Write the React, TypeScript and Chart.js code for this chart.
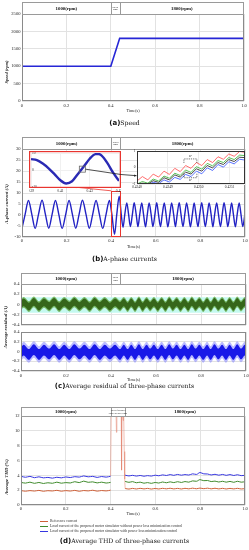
import React, { useEffect, useRef } from "react";
import { Chart, registerables } from "chart.js";

Chart.register(...registerables);

const SERIF = "'Liberation Serif', 'Times New Roman', serif";

// ---------------- shared ----------------
const timeTicks = [0, 0.2, 0.4, 0.6, 0.8, 1.0];
const timeTickLabels = ["0", "0.2", "0.4", "0.6", "0.8", "1.0"];
const phaseBounds = [0, 0.4, 0.44, 1.0];
const phaseLabels = ["1000(rpm)", "Speed\nramp", "1800(rpm)"];

// ---------------- (a) speed ----------------
const speedTime = [0, 0.4, 0.44, 1.0];
const speedRpm = [1000, 1000, 1800, 1800];
const speedTicks = [0, 500, 1000, 1500, 2000, 2500];
const speedTickLabels = ["0", "500", "1000", "1500", "2000", "2500"];

// ---------------- (b) A-phase current ----------------
const currentTime = [
  0.000, 0.014, 0.029, 0.044, 0.059, 0.074, 0.090, 0.105, 0.120, 0.135,
  0.150, 0.165, 0.180, 0.196, 0.211, 0.226, 0.241, 0.256, 0.271, 0.287,
  0.302, 0.317, 0.332, 0.347, 0.362, 0.377, 0.392, 0.403, 0.415, 0.425,
  0.436, 0.445, 0.453, 0.461, 0.470, 0.478, 0.486, 0.495, 0.503, 0.512,
  0.520, 0.528, 0.537, 0.545, 0.554, 0.562, 0.570, 0.579, 0.587, 0.596,
  0.604, 0.612, 0.621, 0.629, 0.638, 0.646, 0.654, 0.663, 0.671, 0.680,
  0.688, 0.696, 0.705, 0.713, 0.722, 0.730, 0.738, 0.747, 0.755, 0.764,
  0.772, 0.780, 0.789, 0.797, 0.806, 0.814, 0.822, 0.831, 0.839, 0.848,
  0.856, 0.864, 0.873, 0.881, 0.890, 0.898, 0.906, 0.915, 0.923, 0.932,
  0.940, 0.948, 0.957, 0.965, 0.974, 0.982, 0.990, 1.000,
];
const currentA = [
  -6.0, 0.3, 6.6, 0.3, -6.1, 0.3, 6.7, 0.3, -6.0, 0.3,
  6.6, 0.3, -6.1, 0.3, 6.6, 0.3, -6.0, 0.3, 6.7, 0.3,
  -6.0, 0.3, 6.6, 0.3, -6.1, 0.3, 6.6, 0.3, -8.8, 0.3,
  8.6, 0.3, -5.6, 0.3, 5.5, 0.3, -5.3, 0.3, 5.6, 0.3,
  -5.3, 0.3, 5.5, 0.3, -5.4, 0.3, 5.5, 0.3, -5.3, 0.3,
  5.6, 0.3, -5.3, 0.3, 5.5, 0.3, -5.4, 0.3, 5.5, 0.3,
  -5.3, 0.3, 5.6, 0.3, -5.3, 0.3, 5.5, 0.3, -5.4, 0.3,
  5.5, 0.3, -5.3, 0.3, 5.6, 0.3, -5.3, 0.3, 5.5, 0.3,
  -5.4, 0.3, 5.5, 0.3, -5.3, 0.3, 5.6, 0.3, -5.3, 0.3,
  5.5, 0.3, -5.4, 0.3, 5.5, 0.3, -5.3, 0.8,
];
const currentTicks = [-10, -5, 0, 5, 10, 15, 20, 25, 30];
const currentTickLabels = ["-10", "-5", "0", "5", "10", "15", "20", "25", "30"];
const zoomBox = [0.4, 0.44, 11, -10];

const zoomTime = [0.390, 0.394, 0.398, 0.402, 0.406, 0.410, 0.414, 0.418, 0.422, 0.426, 0.430, 0.434, 0.436, 0.438, 0.442, 0.446, 0.450];
const zoomA = [6.4, 5.8, 3.8, 1.0, -2.4, -6.0, -7.9, -6.6, -2.3, 2.0, 6.6, 9.3, 9.4, 8.6, 4.2, -1.6, -6.4];
const zoomXTicks = [0.39, 0.41, 0.43, 0.45];
const zoomXLabels = ["0.39", "0.41", "0.43", "0.45"];
const zoomYTicks = [-10, 0, 10];
const zoomYLabels = ["-10", "0", "10"];
const zoomMarker = [0.425, 0.5];

const detailTime = [
  0.4248, 0.4248175, 0.424835, 0.4248525, 0.42487, 0.4248875, 0.424905, 0.4249225, 0.42494, 0.4249575,
  0.424975, 0.4249925, 0.42501, 0.4250275, 0.425045, 0.4250625, 0.42508, 0.4250975, 0.425115, 0.4251325, 0.42515,
];
const detailReference = [-0.82, -0.55, -0.75, -0.4, -0.58, -0.22, -0.42, -0.05, -0.25, 0.12, -0.05, 0.3, 0.12, 0.48, 0.3, 0.65, 0.5, 0.82, 0.68, 0.97, 0.92];
const detailWithout = [-1.0, -0.85, -0.95, -0.7, -0.82, -0.52, -0.65, -0.35, -0.48, -0.15, -0.3, 0.05, -0.1, 0.25, 0.1, 0.42, 0.3, 0.6, 0.48, 0.75, 0.72];
const detailModel = [-1.05, -0.95, -1.0, -0.8, -0.9, -0.62, -0.75, -0.45, -0.58, -0.28, -0.4, -0.08, -0.22, 0.12, -0.02, 0.3, 0.18, 0.48, 0.36, 0.62, 0.6];
const detailWith = [-1.1, -1.0, -1.05, -0.9, -0.98, -0.75, -0.88, -0.6, -0.72, -0.42, -0.55, -0.22, -0.38, -0.02, -0.18, 0.18, 0.02, 0.35, 0.22, 0.5, 0.45];
const detailXTicks = [0.4248, 0.4249, 0.425, 0.4251];
const detailXLabels = ["0.4248", "0.4249", "0.4250", "0.4251"];
const detailYTicks = [-1, 0, 1];
const detailYLabels = ["-1", "0", "1"];

// ---------------- (c) residual ----------------
const resTime = [
  0, 0.012, 0.035, 0.057, 0.080, 0.102, 0.125, 0.147, 0.170, 0.192,
  0.215, 0.237, 0.260, 0.282, 0.305, 0.327, 0.350, 0.372, 0.395, 0.418,
  0.440, 0.457, 0.474, 0.490, 0.507, 0.524, 0.541, 0.558, 0.574, 0.591,
  0.608, 0.625, 0.642, 0.659, 0.675, 0.692, 0.709, 0.726, 0.743, 0.759,
  0.776, 0.793, 0.810, 0.827, 0.843, 0.860, 0.877, 0.894, 0.911, 0.927,
  0.944, 0.961, 0.978, 0.995, 1.000,
];
const greenResidual = [
  0.0, 0.04, -0.04, 0.05, -0.04, 0.04, -0.03, 0.05, -0.04, 0.04,
  -0.03, 0.05, -0.03, 0.04, -0.04, 0.05, -0.03, 0.04, -0.04, 0.04,
  -0.03, 0.04, -0.04, 0.04, -0.04, 0.05, -0.04, 0.04, -0.03, 0.04,
  -0.04, 0.04, -0.04, 0.05, -0.03, 0.04, -0.04, 0.04, -0.04, 0.05,
  -0.03, 0.04, -0.04, 0.04, -0.04, 0.05, -0.03, 0.04, -0.04, 0.04,
  -0.04, 0.05, -0.03, 0.04, 0.0,
];
const blueResidual = [
  -0.02, 0.03, -0.06, 0.04, -0.06, 0.03, -0.05, 0.04, -0.06, 0.03,
  -0.06, 0.04, -0.05, 0.03, -0.06, 0.04, -0.06, 0.03, -0.05, 0.03,
  -0.06, 0.03, -0.06, 0.03, -0.06, 0.04, -0.06, 0.03, -0.05, 0.03,
  -0.06, 0.03, -0.06, 0.04, -0.05, 0.03, -0.06, 0.03, -0.06, 0.04,
  -0.05, 0.03, -0.06, 0.03, -0.06, 0.04, -0.05, 0.03, -0.06, 0.03,
  -0.06, 0.04, -0.05, 0.03, -0.02,
];
const residualBand = [0.14, -0.16];
const resTicks = [-0.4, -0.2, 0, 0.2, 0.4];
const resTickLabels = ["-0.4", "-0.2", "0", "0.2", "0.4"];

// ---------------- (d) THD ----------------
const thdBounds = [0, 0.4, 0.465, 1.0];
const thdPhaseLabels = ["1000(rpm)", "THD is fluctuated\ncaused by speed ramp", "1800(rpm)"];
const thdTimeBefore = [0, 0.02, 0.04, 0.06, 0.08, 0.1, 0.12, 0.14, 0.16, 0.18, 0.2, 0.22, 0.24, 0.26, 0.28, 0.3, 0.32, 0.34, 0.36, 0.38, 0.4];
const thdRefBefore = [1.95, 1.86, 1.94, 1.88, 1.97, 1.85, 1.93, 1.89, 1.98, 1.86, 1.94, 1.88, 1.97, 1.85, 1.95, 1.9, 1.99, 1.87, 1.95, 1.9, 2.0];
const thdWithoutBefore = [3.05, 2.95, 3.08, 2.92, 3.04, 2.9, 3.0, 2.93, 3.08, 2.94, 3.02, 2.97, 3.14, 3.02, 3.22, 3.06, 3.12, 2.98, 3.08, 2.96, 3.05];
const thdWithBefore = [3.88, 3.74, 3.86, 3.68, 3.8, 3.66, 3.72, 3.62, 3.74, 3.66, 3.78, 3.7, 3.82, 3.76, 3.92, 3.8, 3.86, 3.72, 3.84, 3.76, 3.88];
const thdTimeAfter = [
  0.465, 0.482, 0.498, 0.515, 0.532, 0.549, 0.565, 0.582, 0.599, 0.615, 0.632, 0.649, 0.666, 0.682, 0.699, 0.716, 0.732,
  0.749, 0.766, 0.783, 0.799, 0.816, 0.833, 0.849, 0.866, 0.883, 0.9, 0.916, 0.933, 0.95, 0.966, 0.983, 1.0,
];
const thdRefAfter = [2.22, 2.15, 2.24, 2.16, 2.25, 2.17, 2.24, 2.15, 2.23, 2.16, 2.25, 2.18, 2.26, 2.17, 2.24, 2.16, 2.25, 2.18, 2.27, 2.19, 2.28, 2.2, 2.27, 2.18, 2.26, 2.17, 2.25, 2.16, 2.24, 2.17, 2.25, 2.16, 2.22];
const thdWithoutAfter = [3.18, 3.06, 3.15, 3.0, 3.08, 2.94, 3.02, 2.92, 3.04, 2.96, 3.1, 3.0, 3.12, 3.02, 3.14, 3.04, 3.16, 3.08, 3.25, 3.2, 3.42, 3.28, 3.3, 3.16, 3.22, 3.1, 3.2, 3.08, 3.18, 3.06, 3.2, 3.08, 3.14];
const thdWithAfter = [4.02, 3.92, 4.0, 3.9, 3.98, 3.88, 3.96, 3.9, 4.02, 3.94, 4.06, 3.98, 4.1, 4.0, 4.12, 4.02, 4.1, 4.04, 4.2, 4.12, 4.38, 4.2, 4.18, 4.05, 4.14, 4.02, 4.12, 4.0, 4.1, 3.98, 4.08, 3.96, 4.0];
const thdTransTime = [0.4, 0.403, 0.405, 0.424, 0.426, 0.428, 0.447, 0.449, 0.451, 0.454, 0.456, 0.458, 0.461, 0.463, 0.465];
const thdTransVal = [3.9, 13, 13, 13, 9.8, 13, 13, 4.7, 13, 13, 11.4, 13, 7.2, 3.5, 2.2];
const thdTicks = [0, 2, 4, 6, 8, 10, 12];
const thdTickLabels = ["0", "2", "4", "6", "8", "10", "12"];
const thdLegend = [
  "Reference current",
  "Load current of the proposed motor simulator without power loss minimization control",
  "Load current of the proposed motor simulator with power loss minimization control",
];
const thdColors = ["#cf6038", "#3f8a2c", "#3636e0"];

// ---------------- helpers ----------------
function axis(c: any) {
  return {
    type: "linear",
    position: c.x ? "bottom" : "left",
    min: c.min,
    max: c.max,
    afterBuildTicks: (s: any) => {
      s.ticks = c.ticks.map((v: number) => ({ value: v }));
    },
    afterFit: (s: any) => {
      if (c.x) s.height = c.size;
      else s.width = c.size;
      s.paddingLeft = 0;
      s.paddingRight = 0;
      s.paddingTop = 0;
      s.paddingBottom = 0;
    },
    ticks: {
      display: c.show !== false,
      autoSkip: false,
      maxRotation: 0,
      minRotation: 0,
      mirror: !!c.mirror,
      padding: c.pad ?? 1.5,
      color: "#2a2a2a",
      font: { family: SERIF, size: c.font ?? 4.6 },
      callback: (_v: any, i: number) => (c.labels ? c.labels[i] : ""),
    },
    grid: { display: true, color: c.grid ?? "#e2e2e2", lineWidth: 1, drawTicks: false },
    border: { display: false },
    title: c.title
      ? { display: true, text: c.title, color: "#222", font: { family: SERIF, size: 4.2 }, padding: { top: 0, bottom: c.titlePadB ?? 1 } }
      : { display: false },
  };
}

function baseOpts(pad: any, x: any, y: any) {
  return {
    responsive: false,
    animation: false,
    devicePixelRatio: 1,
    events: [],
    layout: { padding: { top: pad.top ?? 0, right: pad.right ?? 0, left: pad.left ?? 0, bottom: pad.bottom ?? 0 } },
    plugins: { legend: { display: false }, tooltip: { enabled: false } },
    elements: { point: { radius: 0 } },
    scales: { x, y },
  };
}

function line(xs: number[], ys: number[], color: string, width: number, extra: any = {}) {
  return {
    data: xs.map((x, i) => ({ x, y: ys[i] })),
    borderColor: color,
    backgroundColor: color,
    borderWidth: width,
    pointRadius: 0,
    fill: false,
    ...extra,
  };
}

// a filled band of a given half-thickness (a drawing style) around a trace
function band(xs: number[], ys: number[], half: number, color: string) {
  const mono = { cubicInterpolationMode: "monotone" };
  return [
    { data: xs.map((x, i) => ({ x, y: ys[i] + half })), borderWidth: 0, pointRadius: 0, backgroundColor: color, fill: "+1", ...mono },
    { data: xs.map((x, i) => ({ x, y: ys[i] - half })), borderWidth: 0, pointRadius: 0, fill: false, ...mono },
  ];
}

const framePlugin = {
  id: "frame",
  afterDatasetsDraw(chart: any) {
    const { ctx, chartArea: a } = chart;
    ctx.save();
    ctx.strokeStyle = "#8a8a8a";
    ctx.lineWidth = 1;
    ctx.strokeRect(Math.round(a.left) + 0.5, Math.round(a.top) + 0.5, Math.round(a.right - a.left) - 1, Math.round(a.bottom - a.top) - 1);
    ctx.restore();
  },
};

function headerPlugin(bounds: number[], labels: string[], h: number, font: number, small: number) {
  return {
    id: "phaseHeader",
    afterDraw(chart: any) {
      const { ctx, chartArea: a } = chart;
      const xs = chart.scales.x;
      const top = Math.round(a.top - h);
      ctx.save();
      ctx.fillStyle = "#fff";
      ctx.fillRect(a.left, top, a.right - a.left, h);
      ctx.strokeStyle = "#9a9a9a";
      ctx.lineWidth = 1;
      ctx.strokeRect(Math.round(a.left) + 0.5, top + 0.5, Math.round(a.right - a.left) - 1, h);
      for (let i = 1; i < bounds.length - 1; i++) {
        const px = Math.round(xs.getPixelForValue(bounds[i])) + 0.5;
        ctx.beginPath();
        ctx.moveTo(px, top);
        ctx.lineTo(px, top + h);
        ctx.stroke();
      }
      ctx.fillStyle = "#111";
      ctx.textAlign = "center";
      ctx.textBaseline = "middle";
      labels.forEach((lab, i) => {
        const cx = (xs.getPixelForValue(bounds[i]) + xs.getPixelForValue(bounds[i + 1])) / 2;
        const lines = lab.split("\n");
        const fs = lines.length > 1 ? small : font;
        ctx.font = `${lines.length > 1 ? "" : "bold "}${fs}px ${SERIF}`;
        lines.forEach((ln, j) => ctx.fillText(ln, cx, top + h / 2 + 0.5 + (j - (lines.length - 1) / 2) * fs * 1.2));
      });
      ctx.restore();
    },
  };
}

function arrow(ctx: any, x0: number, y0: number, x1: number, y1: number, color: string, head = 2.6) {
  ctx.strokeStyle = color;
  ctx.fillStyle = color;
  ctx.lineWidth = 0.8;
  ctx.beginPath();
  ctx.moveTo(x0, y0);
  ctx.lineTo(x1, y1);
  ctx.stroke();
  const ang = Math.atan2(y1 - y0, x1 - x0);
  ctx.beginPath();
  ctx.moveTo(x1, y1);
  ctx.lineTo(x1 - head * Math.cos(ang - 0.45), y1 - head * Math.sin(ang - 0.45));
  ctx.lineTo(x1 - head * Math.cos(ang + 0.45), y1 - head * Math.sin(ang + 0.45));
  ctx.closePath();
  ctx.fill();
}

// layout (page pixels)
const B_TOP = 130;
const LI = { left: 29, top: 151, w: 92, h: 45, box: 37 };
const RI = { left: 128, top: 148, w: 121, h: 45 };

const zoomMarksPlugin = {
  id: "zoomMarks",
  afterDatasetsDraw(chart: any) {
    const { ctx } = chart;
    const xs = chart.scales.x;
    const ys = chart.scales.y;
    const x0 = xs.getPixelForValue(zoomBox[0]);
    const x1 = xs.getPixelForValue(zoomBox[1]);
    const y0 = ys.getPixelForValue(zoomBox[2]);
    const y1 = ys.getPixelForValue(zoomBox[3]);
    ctx.save();
    ctx.strokeStyle = "#e8352f";
    ctx.lineWidth = 1;
    ctx.strokeRect(Math.round(x0) + 0.5, Math.round(y0) + 0.5, Math.round(x1 - x0), Math.round(y1 - y0) - 1);
    arrow(ctx, x0, y0, 74, LI.top + LI.box - 1 - B_TOP, "#e8352f");
    arrow(ctx, LI.left + LI.w, 174.5 - B_TOP, RI.left + 8.5, 175.7 - B_TOP, "#222");
    ctx.restore();
  },
};

const leftInsetPlugin = {
  id: "leftInset",
  beforeDraw(chart: any) {
    const { ctx } = chart;
    ctx.save();
    ctx.fillStyle = "#fff";
    ctx.fillRect(0, 0, LI.w, LI.box);
    ctx.restore();
  },
  afterDatasetsDraw(chart: any) {
    const { ctx } = chart;
    const sx = chart.scales.x.getPixelForValue(zoomMarker[0]);
    const sy = chart.scales.y.getPixelForValue(zoomMarker[1]);
    ctx.save();
    ctx.strokeStyle = "#e8352f";
    ctx.lineWidth = 1.2;
    ctx.strokeRect(0.6, 0.6, LI.w - 1.2, LI.box - 1.2);
    ctx.strokeStyle = "#666";
    ctx.lineWidth = 0.8;
    ctx.strokeRect(sx - 3, sy - 3, 6, 6);
    ctx.strokeStyle = "#222";
    ctx.beginPath();
    ctx.moveTo(sx + 3, sy);
    ctx.lineTo(LI.w, 174.5 - LI.top);
    ctx.stroke();
    ctx.restore();
  },
};

const rightInsetPlugin = {
  id: "rightInset",
  beforeDraw(chart: any) {
    const { ctx, chartArea: a } = chart;
    ctx.save();
    ctx.fillStyle = "#fff";
    ctx.fillRect(a.left, a.top, a.right - a.left, a.bottom - a.top);
    ctx.restore();
  },
  afterDatasetsDraw(chart: any) {
    const { ctx, chartArea: a } = chart;
    const xs = chart.scales.x;
    const ys = chart.scales.y;
    ctx.save();
    ctx.strokeStyle = "#333";
    ctx.lineWidth = 1;
    ctx.strokeRect(Math.round(a.left) + 0.5, Math.round(a.top) + 0.5, Math.round(a.right - a.left) - 1, Math.round(a.bottom - a.top) - 1);
    const xl = xs.getPixelForValue(0.424952);
    const xr = xs.getPixelForValue(0.424994);
    const yt = ys.getPixelForValue(0.52);
    const yb = ys.getPixelForValue(-0.62);
    ctx.setLineDash([1.2, 1]);
    ctx.lineWidth = 0.6;
    ctx.strokeStyle = "#111";
    ctx.beginPath();
    ctx.moveTo(xl, yt + 4); ctx.lineTo(xl, yt); ctx.lineTo(xr, yt); ctx.lineTo(xr, yt + 4);
    ctx.moveTo(xl, yb - 4); ctx.lineTo(xl, yb); ctx.lineTo(xr, yb); ctx.lineTo(xr, yb - 4);
    ctx.stroke();
    ctx.setLineDash([]);
    ctx.fillStyle = "#111";
    ctx.font = `italic 3.4px ${SERIF}`;
    ctx.textAlign = "center";
    ctx.textBaseline = "middle";
    ctx.fillText("εr", (xl + xr) / 2, yt - 2.5);
    ctx.fillText("εr", (xl + xr) / 2, yb + 2.5);
    ctx.restore();
  },
};

function Caption(p: { top: number; letter: string; text: string }) {
  return (
    <div
      style={{
        position: "absolute",
        left: 0,
        top: p.top,
        width: 249,
        height: 10,
        lineHeight: "10px",
        textAlign: "center",
        whiteSpace: "nowrap",
        fontFamily: "'DejaVu Serif', serif",
        fontSize: 6.2,
        color: "#111",
        WebkitFontSmoothing: "antialiased",
        willChange: "transform",
      } as any}
    >
      <b style={{ fontFamily: "'DejaVu Sans', sans-serif", fontSize: 7, color: "#111" }}>({p.letter})</b>
      <span style={{ color: "#111" }}>{p.text}</span>
    </div>
  );
}

function YTitle(p: { cx: number; cy: number; text: string; size: number }) {
  const w = 80;
  return (
    <div
      style={{
        position: "absolute",
        left: p.cx - w / 2,
        top: p.cy - 4,
        width: w,
        height: 8,
        lineHeight: "8px",
        textAlign: "center",
        whiteSpace: "nowrap",
        transform: "rotate(-90deg)",
        fontFamily: SERIF,
        fontStyle: "italic",
        fontWeight: "bold",
        fontSize: p.size,
        color: "#222",
      }}
    >
      {p.text}
    </div>
  );
}

export default function App() {
  const aRef = useRef<HTMLCanvasElement>(null);
  const bRef = useRef<HTMLCanvasElement>(null);
  const bLRef = useRef<HTMLCanvasElement>(null);
  const bRRef = useRef<HTMLCanvasElement>(null);
  const c1Ref = useRef<HTMLCanvasElement>(null);
  const c2Ref = useRef<HTMLCanvasElement>(null);
  const dRef = useRef<HTMLCanvasElement>(null);

  useEffect(() => {
    const charts: any[] = [];
    const mono = { cubicInterpolationMode: "monotone" };

    // (a)
    charts.push(
      new Chart(aRef.current as any, {
        type: "line",
        data: { datasets: [line(speedTime, speedRpm, "#2626d6", 1.6)] } as any,
        options: baseOpts(
          { top: 14, right: 5 },
          axis({ x: true, min: 0, max: 1, ticks: timeTicks, labels: timeTickLabels, size: 14, pad: 2.2, title: "Time(s)", titlePadB: 2 }),
          axis({ x: false, min: 0, max: 2500, ticks: speedTicks, labels: speedTickLabels, size: 22, pad: 1.5 })
        ) as any,
        plugins: [framePlugin, headerPlugin(phaseBounds, phaseLabels, 12, 4.8, 2.3)],
      })
    );

    // (b) main
    charts.push(
      new Chart(bRef.current as any, {
        type: "line",
        data: { datasets: [line(currentTime, currentA, "#2222c4", 1.4, mono)] } as any,
        options: baseOpts(
          { top: 19, right: 4 },
          axis({ x: true, min: 0, max: 1, ticks: timeTicks, labels: timeTickLabels, size: 17, pad: 1.2, title: "Time(s)", titlePadB: 4.8 }),
          axis({ x: false, min: -10, max: 30, ticks: currentTicks, labels: currentTickLabels, size: 22, pad: 1.5 })
        ) as any,
        plugins: [framePlugin, zoomMarksPlugin, headerPlugin(phaseBounds, phaseLabels, 12, 4.8, 2.3)],
      })
    );

    // (b) left inset
    charts.push(
      new Chart(bLRef.current as any, {
        type: "line",
        data: { datasets: [line(zoomTime, zoomA, "#2a2ab4", 2.4, mono)] } as any,
        options: baseOpts(
          { top: 2, right: 2, left: 2 },
          axis({ x: true, min: 0.39, max: 0.45, ticks: zoomXTicks, labels: zoomXLabels, size: LI.h - 36, pad: 1.8, font: 3.6, grid: "#f0f0f0" }),
          axis({ x: false, min: -10, max: 10, ticks: zoomYTicks, labels: zoomYLabels, size: 0, pad: 1, font: 3.6, mirror: true, grid: "#f0f0f0" })
        ) as any,
        plugins: [leftInsetPlugin],
      })
    );

    // (b) right inset
    charts.push(
      new Chart(bRRef.current as any, {
        type: "line",
        data: {
          datasets: [
            line(detailTime, detailReference, "#ff4a4a", 0.8),
            line(detailTime, detailWithout, "#2fb02f", 0.8),
            line(detailTime, detailModel, "#1a1a1a", 0.8),
            line(detailTime, detailWith, "#2f4dff", 0.8),
          ],
        } as any,
        options: baseOpts(
          { top: 3, right: 4 },
          axis({ x: true, min: 0.4248, max: 0.42515, ticks: detailXTicks, labels: detailXLabels, size: RI.h - 36, pad: 1.2, font: 3.5, grid: "#ececec" }),
          axis({ x: false, min: -1, max: 1, ticks: detailYTicks, labels: detailYLabels, size: 9, pad: 1.5, font: 3.5, grid: "#ececec" })
        ) as any,
        plugins: [rightInsetPlugin],
      })
    );

    // (c) top
    charts.push(
      new Chart(c1Ref.current as any, {
        type: "line",
        data: {
          datasets: [
            ...band(resTime, greenResidual, 0.075, "#36661a"),
            ...band(resTime, greenResidual, 0.105, "rgba(95,165,60,0.75)"),
            {
              data: [
                { x: 0, y: residualBand[0] },
                { x: 1, y: residualBand[0] },
              ],
              borderWidth: 0,
              pointRadius: 0,
              backgroundColor: "rgba(190,248,238,0.9)",
              fill: { value: residualBand[1] },
            },
          ],
        } as any,
        options: baseOpts(
          { top: 14, right: 3 },
          axis({ x: true, min: 0, max: 1, ticks: timeTicks, labels: timeTickLabels, size: 1, show: false }),
          axis({ x: false, min: -0.4, max: 0.4, ticks: resTicks, labels: resTickLabels, size: 21, pad: 1.5 })
        ) as any,
        plugins: [framePlugin, headerPlugin(phaseBounds, phaseLabels, 11, 4.8, 2.2)],
      })
    );

    // (c) bottom
    charts.push(
      new Chart(c2Ref.current as any, {
        type: "line",
        data: {
          datasets: [
            ...band(resTime, blueResidual, 0.11, "#1818e8"),
            ...band(resTime, blueResidual, 0.17, "rgba(120,120,255,0.5)"),
          ],
        } as any,
        options: baseOpts(
          { top: 4, right: 3 },
          axis({ x: true, min: 0, max: 1, ticks: timeTicks, labels: timeTickLabels, size: 13, pad: 1.9, title: "Time(s)", titlePadB: 1.5 }),
          axis({ x: false, min: -0.4, max: 0.4, ticks: resTicks, labels: resTickLabels, size: 21, pad: 1.5 })
        ) as any,
        plugins: [framePlugin],
      })
    );

    // (d)
    const gap = (xs: number[], ys: number[], xs2: number[], ys2: number[]) =>
      [...xs.map((x, i) => ({ x, y: ys[i] })), { x: 0.43, y: null }, ...xs2.map((x, i) => ({ x, y: ys2[i] }))];
    charts.push(
      new Chart(dRef.current as any, {
        type: "line",
        data: {
          datasets: [
            { data: gap(thdTimeBefore, thdRefBefore, thdTimeAfter, thdRefAfter), borderColor: thdColors[0], borderWidth: 1, pointRadius: 0, ...mono },
            { data: gap(thdTimeBefore, thdWithoutBefore, thdTimeAfter, thdWithoutAfter), borderColor: thdColors[1], borderWidth: 1, pointRadius: 0, ...mono },
            { data: gap(thdTimeBefore, thdWithBefore, thdTimeAfter, thdWithAfter), borderColor: thdColors[2], borderWidth: 1, pointRadius: 0, ...mono },
            line(thdTransTime, thdTransVal, "rgba(226,130,110,0.75)", 0.7, { clip: 0 }),
          ],
        } as any,
        options: baseOpts(
          { top: 16, right: 4 },
          axis({ x: true, min: 0, max: 1, ticks: timeTicks, labels: timeTickLabels, size: 13, pad: 1.2, title: "Time(s)", titlePadB: 1.2 }),
          axis({ x: false, min: 0, max: 12, ticks: thdTicks, labels: thdTickLabels, size: 21, pad: 1.5 })
        ) as any,
        plugins: [framePlugin, headerPlugin(thdBounds, thdPhaseLabels, 9, 4.8, 2.1)],
      })
    );

    return () => charts.forEach((c) => c.destroy());
  }, []);

  const abs = (left: number, top: number): any => ({ position: "absolute", left, top });

  return (
    <div style={{ position: "absolute", left: 0, top: 0, width: 249, height: 550, background: "#fff", overflow: "hidden" }}>
      <canvas ref={aRef} width={249} height={115} style={abs(0, 0)} />
      <YTitle cx={7} cy={72} text="Speed (rpm)" size={4.6} />
      <Caption top={118} letter="a" text="Speed" />

      <canvas ref={bRef} width={249} height={124} style={abs(0, B_TOP)} />
      <canvas ref={bLRef} width={LI.w} height={LI.h} style={abs(LI.left, LI.top)} />
      <canvas ref={bRRef} width={RI.w} height={RI.h} style={abs(RI.left, RI.top)} />
      <YTitle cx={7} cy={204} text="A-phase current (A)" size={4.8} />
      <Caption top={254} letter="b" text="A-phase currents" />

      <canvas ref={c1Ref} width={249} height={56} style={abs(0, 270)} />
      <canvas ref={c2Ref} width={249} height={56} style={abs(0, 328)} />
      <YTitle cx={6} cy={327} text="Average residual (A)" size={5} />
      <Caption top={381} letter="c" text="Average residual of three-phase currents" />

      <canvas ref={dRef} width={249} height={118} style={abs(0, 400)} />
      <YTitle cx={7} cy={477} text="Average THD (%)" size={4.8} />
      {thdLegend.map((lab, i) => (
        <div
          key={i}
          style={{
            position: "absolute",
            left: 40,
            top: 519.2 + i * 5,
            height: 5,
            lineHeight: "5px",
            whiteSpace: "nowrap",
            fontFamily: SERIF,
            fontSize: 3.8,
            color: "#333",
          }}
        >
          <span style={{ display: "inline-block", width: 8, height: 0, borderTop: `1px solid ${thdColors[i]}`, verticalAlign: "middle", marginRight: 2 }} />
          {lab}
        </div>
      ))}
      <Caption top={536} letter="d" text="Average THD of three-phase currents" />
    </div>
  );
}
